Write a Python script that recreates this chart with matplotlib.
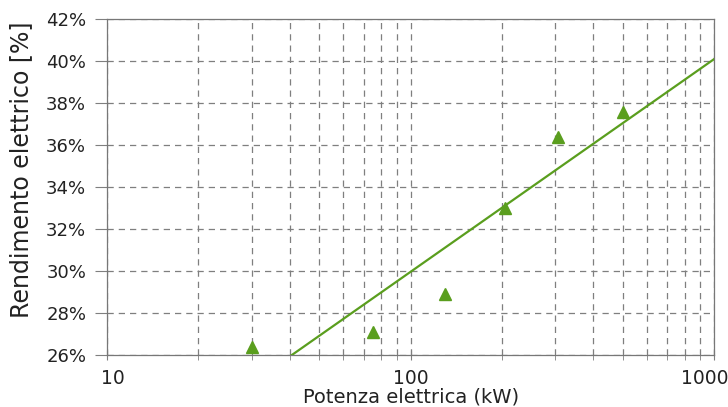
import matplotlib
matplotlib.use("Agg")
import matplotlib.pyplot as plt
from matplotlib.ticker import FixedLocator, NullFormatter, FuncFormatter
from matplotlib.transforms import ScaledTranslation

# Data
power_kw = [30, 75, 130, 205, 305, 500]
efficiency = [26.4, 27.1, 28.9, 33.0, 36.4, 37.6]
trend_x = [40.5, 1000]
trend_y = [26.0, 40.1]
y_ticks = [26, 28, 30, 32, 34, 36, 38, 40, 42]
x_major = [10, 100, 1000]
x_minor = [20, 30, 40, 50, 60, 70, 80, 90,
           200, 300, 400, 500, 600, 700, 800, 900]

green = "#5a9e1e"
grid_col = "#7f7f7f"

fig = plt.figure(figsize=(7.28, 4.07), dpi=100)
ax = fig.add_axes([0.147, 0.127, 0.834, 0.826])

ax.set_xscale("log")
ax.set_xlim(10, 1000)
ax.set_ylim(26, 42)

ax.plot(trend_x, trend_y, color=green, lw=1.6, zorder=3)
ax.plot(power_kw, efficiency, linestyle="none", marker="^", markersize=8,
        color=green, zorder=4)

ax.xaxis.set_major_locator(FixedLocator(x_major))
ax.xaxis.set_minor_locator(FixedLocator(x_minor))
ax.xaxis.set_major_formatter(FuncFormatter(lambda v, p: f"{v:g}"))
ax.xaxis.set_minor_formatter(NullFormatter())
ax.yaxis.set_major_locator(FixedLocator(y_ticks))
ax.yaxis.set_major_formatter(FuncFormatter(lambda v, p: f"{v:.0f}%"))

ax.grid(True, which="both", axis="x", color=grid_col, linestyle=(0, (5, 4)), lw=0.9)
ax.grid(True, which="major", axis="y", color=grid_col, linestyle=(0, (5, 4)), lw=0.9)

ax.tick_params(axis="x", which="both", direction="inout", length=7, color=grid_col,
               labelsize=13.5, pad=6, labelcolor="#222222")
ax.tick_params(axis="y", which="major", direction="out", length=9, color=grid_col,
               labelsize=13, pad=6, labelcolor="#222222")

for s in ax.spines.values():
    s.set_color("#777777")
    s.set_linewidth(0.9)

ax.set_ylabel("Rendimento elettrico [%]", fontsize=17, color="#222222")
ax.yaxis.set_label_coords(-0.122, 0.552)
ax.set_xlabel("Potenza elettrica (kW)", fontsize=14, color="#222222", labelpad=0)

fig.canvas.draw()
xlabels = ax.get_xticklabels()
# shift first label right and last label left, as in the reference
xlabels[0].set_transform(xlabels[0].get_transform() + ScaledTranslation(6 / 100, 0, fig.dpi_scale_trans))
xlabels[-1].set_transform(xlabels[-1].get_transform() + ScaledTranslation(-9 / 100, 0, fig.dpi_scale_trans))

fig.savefig("out.png", dpi=100)
